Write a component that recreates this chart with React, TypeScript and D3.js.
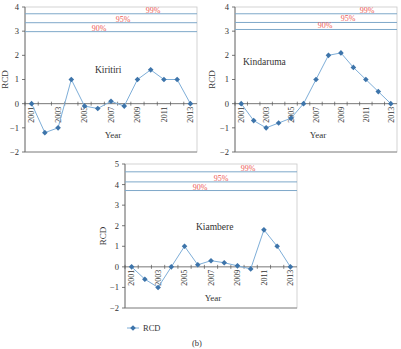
import React from 'react'
import * as d3 from 'd3'

const years = ['2001', '2002', '2003', '2004', '2005', '2006', '2007', '2008', '2009', '2010', '2011', '2012', '2013']
const yearLabels = ['2001', '2003', '2005', '2007', '2009', '2011', '2013']

const kiritiri = [0, -1.2, -1.0, 1.0, -0.1, -0.2, 0.1, -0.1, 1.0, 1.4, 1.0, 1.0, 0]
const kindaruma = [0, -0.7, -1.0, -0.8, -0.6, 0, 1.0, 2.0, 2.1, 1.5, 1.0, 0.5, 0]
const kiambere = [0, -0.6, -1.0, 0, 1.0, 0.1, 0.3, 0.2, 0.05, -0.1, 1.8, 1.0, 0]

const levels = ['99%', '95%', '90%']
const kiritiriLimits = [3.72, 3.35, 2.98]
const kindarumaLimits = [3.72, 3.36, 3.07]
const kiambereLimits = [4.62, 4.13, 3.71]

const SERIF = '"Liberation Serif", "DejaVu Serif", serif'
const LINE = '#7eaed8'
const MARK = '#3d74aa'
const LIMIT = '#7ea8c9'
const RED = '#ee5a55'

type PanelProps = {
  name: string
  values: number[]
  limits: number[]
  yMax: number
  box: { left: number; right: number; top: number; bottom: number }
  labelPos: [number, number]
  limitLabelX: number[]
  yTitleX: number
  yearY: number
}

const diamond = d3.symbol().type(d3.symbolDiamond2).size(20)()

function Panel({ name, values, limits, yMax, box, labelPos, limitLabelX, yTitleX, yearY }: PanelProps) {
  const x = d3.scaleBand<string>().domain(years).range([box.left, box.right])
  const y = d3.scaleLinear().domain([-2, yMax]).range([box.bottom, box.top])
  const cx = (yr: string) => (x(yr) ?? 0) + x.bandwidth() / 2
  const y0 = y(0)

  const line = d3.line<number>()
    .x((_, i) => cx(years[i]))
    .y(d => y(d))

  const yTicks = d3.range(-2, yMax + 1)
  const fmt = (v: number) => (v < 0 ? `\u2212${Math.abs(v)}` : `${v}`)

  return (
    <g style={{ fontFamily: SERIF }}>
      {/* plot frame */}
      <rect x={box.left} y={box.top} width={box.right - box.left} height={box.bottom - box.top}
        fill="none" stroke="#c8c8c8" strokeWidth={0.8} />
      <line x1={box.left} x2={box.left} y1={box.top} y2={box.bottom} stroke="#555" strokeWidth={0.8} />
      <line x1={box.left} x2={box.right} y1={box.bottom} y2={box.bottom} stroke="#777" strokeWidth={0.8} />

      {/* y axis */}
      {yTicks.map(t => (
        <g key={t}>
          <line x1={box.left - 3} x2={box.left} y1={y(t)} y2={y(t)} stroke="#555" strokeWidth={0.8} />
          <text x={box.left - 6} y={y(t)} dy="0.35em" textAnchor="end" fontSize={8.5} fill="#333">{fmt(t)}</text>
        </g>
      ))}
      <text transform={`translate(${yTitleX},${(box.top + box.bottom) / 2}) rotate(-90)`}
        textAnchor="middle" fontSize={9} fill="#333">RCD</text>

      {/* confidence limits */}
      {limits.map((v, i) => (
        <g key={levels[i]}>
          <line x1={box.left} x2={box.right} y1={y(v)} y2={y(v)} stroke={LIMIT} strokeWidth={1} />
          <text x={limitLabelX[i]} y={y(v) - 1} textAnchor="middle" fontSize={8} fill={RED}>{levels[i]}</text>
        </g>
      ))}

      {/* zero axis with category ticks */}
      <line x1={box.left} x2={box.right} y1={y0} y2={y0} stroke="#555" strokeWidth={0.8} />
      {years.map(yr => (
        <line key={yr} x1={x(yr) ?? 0} x2={x(yr) ?? 0} y1={y0 - 2} y2={y0 + 2} stroke="#555" strokeWidth={0.7} />
      ))}
      {yearLabels.map(yr => (
        <text key={yr} transform={`translate(${cx(yr)},${y0 + 3}) rotate(-90)`}
          dy="0.35em" textAnchor="end" fontSize={8} fill="#333">{yr}</text>
      ))}
      <text x={(box.left + box.right) / 2 + 2} y={yearY} textAnchor="middle" fontSize={9} fill="#333">Year</text>

      <text x={labelPos[0]} y={labelPos[1]} fontSize={9.5} fill="#333">{name}</text>

      {/* series */}
      <path d={line(values) ?? ''} fill="none" stroke={LINE} strokeWidth={1} />
      {values.map((v, i) => (
        <path key={years[i]} d={diamond ?? ''} transform={`translate(${cx(years[i])},${y(v)})`} fill={MARK} />
      ))}
    </g>
  )
}

export default function App() {
  return (
    <svg width={401} height={349} style={{ position: 'absolute', left: 0, top: 0, background: '#fff' }}>
      <Panel name="Kiritiri" values={kiritiri} limits={kiritiriLimits} yMax={4}
        box={{ left: 25, right: 197, top: 7, bottom: 152 }}
        labelPos={[95, 73]} limitLabelX={[153, 123, 99]} yTitleX={8} yearY={138} />
      <Panel name="Kindaruma" values={kindaruma} limits={kindarumaLimits} yMax={4}
        box={{ left: 235, right: 397, top: 7, bottom: 152 }}
        labelPos={[243, 65]} limitLabelX={[367, 348, 325]} yTitleX={215} yearY={138} />
      <Panel name="Kiambere" values={kiambere} limits={kiambereLimits} yMax={5}
        box={{ left: 125, right: 297, top: 164, bottom: 308 }}
        labelPos={[196, 230]} limitLabelX={[248, 221, 200]} yTitleX={106} yearY={301} />

      {/* legend */}
      <g style={{ fontFamily: SERIF }}>
        <line x1={127} x2={139} y1={328} y2={328} stroke={LINE} strokeWidth={1} />
        <path d={diamond ?? ''} transform="translate(133,328)" fill={MARK} />
        <text x={143} y={328} dy="0.35em" fontSize={8.5} fill="#333">RCD</text>
        <text x={197} y={346} textAnchor="middle" fontSize={8.5} fill="#333">(b)</text>
      </g>
    </svg>
  )
}
